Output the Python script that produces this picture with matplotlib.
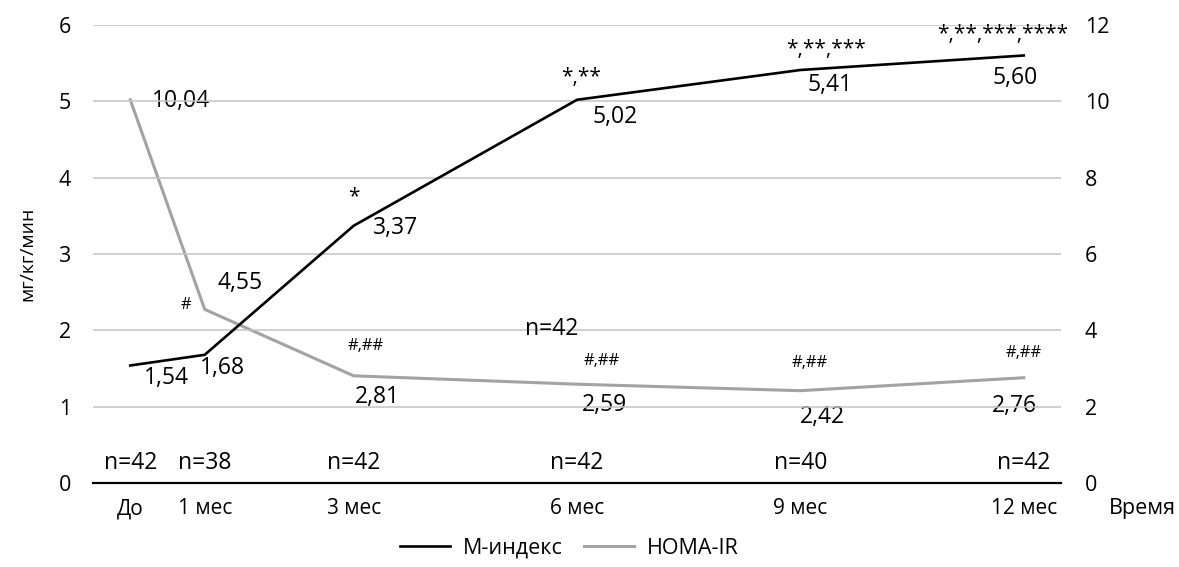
import numpy as np
import matplotlib.pyplot as plt

plt.rcParams['font.family'] = ['Open Sans', 'DejaVu Sans']

# data
months = [0, 1, 3, 6, 9, 12]
month_labels = ['До', '1 мес', '3 мес', '6 мес', '9 мес', '12 мес']
m_index = [1.54, 1.68, 3.37, 5.02, 5.41, 5.60]
homa_ir = [10.04, 4.55, 2.81, 2.59, 2.42, 2.76]
n_counts = ['n=42', 'n=38', 'n=42', 'n=42', 'n=40', 'n=42']
m_marks = ['', '', '*', '*,**', '*,**,***', '*,**,***,****']
homa_marks = ['', '#', '#,##', '#,##', '#,##', '#,##']

# label offsets in pixels (dx, dy)
m_val_off = [(36, -13), (18, -13), (42, -2), (38, -17), (30, -15), (-9, -23)]
m_mark_off = [(0, 0), (0, 0), (0, 29), (4, 22), (26, 20), (-21, 21)]
h_val_off = [(51, -1), (35, 26), (24, -21), (27, -21), (22, -26), (-9, -28)]
h_mark_off = [(0, 0), (-19, 4), (12, 30), (25, 23), (9, 28), (0, 25)]

def fmt(v):
    return ('%.2f' % v).replace('.', ',')

fig = plt.figure(figsize=(11.79, 5.67), dpi=100)
ax = fig.add_axes([0.0789, 0.148, 0.821, 0.808])
ax2 = ax.twinx()

ax.set_xlim(-0.5, 12.5)
ax.set_ylim(0, 6)
ax2.set_ylim(0, 12)
ax.set_yticks(range(0, 7))
ax2.set_yticks(range(0, 13, 2))
ax.grid(axis='y', color='#c3c3c3', lw=1.1)
ax.set_axisbelow(True)

for a in (ax, ax2):
    for s in a.spines.values():
        s.set_visible(False)
    a.tick_params(length=0, labelsize=15.5)
ax.spines['bottom'].set_visible(True)
ax.spines['bottom'].set_color('black')
ax.spines['bottom'].set_linewidth(1.6)
ax.tick_params(axis='y', pad=16)
ax2.tick_params(axis='y', pad=17)
ax.set_xticks(months)
ax.set_xticklabels(month_labels, fontsize=15)
ax.tick_params(axis='x', pad=11)

l1, = ax.plot(months, m_index, color='black', lw=1.9, label='М-индекс')
l2, = ax2.plot(months, homa_ir, color='#a3a3a3', lw=2.2, label='HOMA-IR')
ax.set_zorder(ax2.get_zorder() + 1)
ax.patch.set_visible(False)

for x, y, off, mk, moff in zip(months, m_index, m_val_off, m_marks, m_mark_off):
    ax.annotate(fmt(y), (x, y), xytext=off, textcoords='offset pixels',
                ha='center', va='center', fontsize=16.5)
    if mk:
        ax.annotate(mk, (x, y), xytext=moff, textcoords='offset pixels',
                    ha='center', va='center', fontsize=15)

for x, y, off, mk, moff in zip(months, homa_ir, h_val_off, homa_marks, h_mark_off):
    ax2.annotate(fmt(y), (x, y), xytext=off, textcoords='offset pixels',
                 ha='center', va='center', fontsize=16.5)
    if mk:
        ax2.annotate(mk, (x, y), xytext=moff, textcoords='offset pixels',
                     ha='center', va='center', fontsize=12)

for x, n in zip(months, n_counts):
    ax.text(x, 0.26, n, ha='center', va='center', fontsize=16.5)
ax.text(5.66, 2.02, 'n=42', ha='center', va='center', fontsize=16.5)

ax.set_ylabel('мг/кг/мин', fontsize=14, labelpad=16)
fig.text(0.969, 0.104, 'Время', ha='center', va='center', fontsize=15.5)

fig.legend(handles=[l1, l2], loc='center', bbox_to_anchor=(0.483, 0.033),
           ncol=2, frameon=False, fontsize=15.5, handlelength=2.3,
           columnspacing=1.0, handletextpad=0.6)

fig.savefig('out.png', dpi=100)
